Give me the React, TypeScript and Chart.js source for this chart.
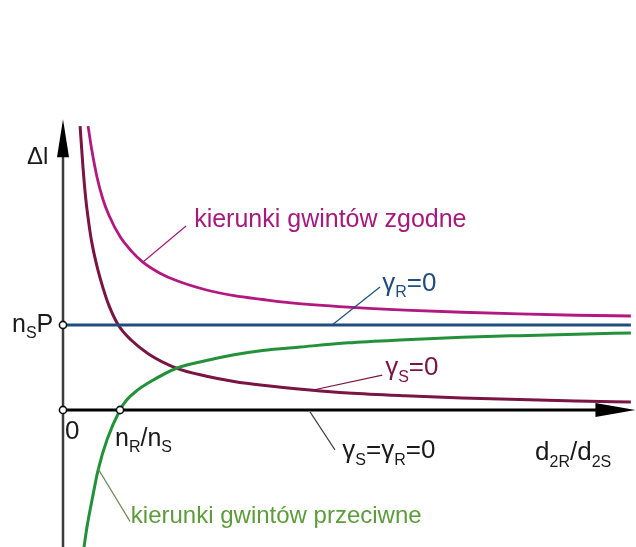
import { useEffect, useRef } from "react";
import { Chart, registerables } from "chart.js";

Chart.register(...registerables);

// Axis ranges (in units of n_R/n_S horizontally and n_S·P vertically)
const X_MIN = -1.105;
const X_MAX = 10.05;
const Y_MIN = -1.612;
const Y_MAX = 4.824;
const X_ARROW_TIP = 10.04;
const Y_ARROW_TIP = 3.42;

// γS = 0 (hyperbola falling towards the d2R/d2S axis)
const gammaSX = [0.3, 0.35, 0.4, 0.45, 0.5, 0.6, 0.7, 0.8, 0.97, 1.2, 1.5, 2.0, 2.5, 3.0, 3.5, 4.33, 5.0, 6.0, 7.0, 8.0, 9.0, 9.96];
const gammaSY = [3.34, 2.86, 2.48, 2.21, 1.99, 1.68, 1.44, 1.24, 1.0, 0.82, 0.66, 0.49, 0.4, 0.335, 0.29, 0.235, 0.2, 0.167, 0.142, 0.123, 0.107, 0.094];

// kierunki gwintów zgodne (approaches n_S·P from above)
const zgodneX = [0.44, 0.5, 0.6, 0.7, 0.8, 1.0, 1.2, 1.4, 1.7, 2.0, 2.5, 3.0, 3.5, 4.0, 5.0, 6.0, 7.0, 8.0, 9.0, 9.96];
const zgodneY = [3.34, 3.08, 2.73, 2.48, 2.3, 2.04, 1.87, 1.74, 1.61, 1.52, 1.415, 1.345, 1.3, 1.26, 1.21, 1.175, 1.15, 1.13, 1.115, 1.106];

// kierunki gwintów przeciwne (approaches n_S·P from below)
const przeciwneX = [0.35, 0.42, 0.509, 0.614, 0.772, 1.0, 1.12, 1.3, 1.5, 2.0, 2.4, 3.0, 3.5, 4.16, 5.0, 5.91, 7.0, 8.0, 9.0, 9.96];
const przeciwneY = [-1.7, -1.38, -1.06, -0.71, -0.35, 0, 0.12, 0.23, 0.32, 0.494, 0.565, 0.65, 0.7, 0.741, 0.79, 0.824, 0.855, 0.875, 0.892, 0.906];

// γR = 0 (constant n_S·P)
const gammaRX = [0, 9.96];
const gammaRY = [1, 1];

// Marked points on the axes
const markerX = [0, 0, 1];
const markerY = [1, 0, 0];

const COLOR_GAMMA_S = "#7a1442";
const COLOR_ZGODNE = "#b2187f";
const COLOR_PRZECIWNE = "#23913a";
const COLOR_GAMMA_R = "#1f4e7e";
const TEXT_ZGODNE = "#a51a7c";
const TEXT_PRZECIWNE = "#5d9c3a";

const LABEL_ZGODNE = "kierunki gwintów zgodne";
const LABEL_PRZECIWNE = "kierunki gwintów przeciwne";

const FONT = '"Liberation Sans", Arial, sans-serif';

type Run = { t: string; sub?: boolean };

function drawRuns(
  ctx: CanvasRenderingContext2D,
  runs: Run[],
  x: number,
  y: number,
  size: number,
  subSize: number,
  color: string
) {
  ctx.save();
  ctx.fillStyle = color;
  ctx.textBaseline = "alphabetic";
  ctx.textAlign = "left";
  let cx = x;
  for (const r of runs) {
    ctx.font = `${r.sub ? subSize : size}px ${FONT}`;
    ctx.fillText(r.t, cx, r.sub ? y + subSize * 0.4 : y);
    cx += ctx.measureText(r.t).width;
  }
  ctx.restore();
}

function toPoints(xs: number[], ys: number[]) {
  return xs.map((x, i) => ({ x, y: ys[i] }));
}

const axesPlugin = {
  id: "arrowAxes",
  beforeDatasetsDraw(chart: any) {
    const { ctx, scales } = chart;
    const sx = scales.x;
    const sy = scales.y;
    const x0 = sx.getPixelForValue(0);
    const y0 = sy.getPixelForValue(0);
    const yTip = sy.getPixelForValue(Y_ARROW_TIP);
    const xTip = sx.getPixelForValue(X_ARROW_TIP);
    const yBottom = sy.getPixelForValue(Y_MIN);

    ctx.save();
    // vertical axis Δl
    ctx.strokeStyle = "#3c3c3c";
    ctx.lineWidth = 2.5;
    ctx.beginPath();
    ctx.moveTo(x0, yTip + 20);
    ctx.lineTo(x0, yBottom);
    ctx.stroke();
    ctx.fillStyle = "#000";
    ctx.beginPath();
    ctx.moveTo(x0, yTip);
    ctx.lineTo(x0 - 6, yTip + 38);
    ctx.lineTo(x0 + 6, yTip + 38);
    ctx.closePath();
    ctx.fill();

    // horizontal axis d2R/d2S
    ctx.strokeStyle = "#000";
    ctx.lineWidth = 3;
    ctx.beginPath();
    ctx.moveTo(x0, y0);
    ctx.lineTo(xTip - 20, y0);
    ctx.stroke();
    ctx.beginPath();
    ctx.moveTo(xTip, y0);
    ctx.lineTo(xTip - 40, y0 - 7);
    ctx.lineTo(xTip - 40, y0 + 7);
    ctx.closePath();
    ctx.fill();
    ctx.restore();
  },
  afterDatasetsDraw(chart: any) {
    const { ctx, scales } = chart;
    const X = (v: number) => scales.x.getPixelForValue(v);
    const Y = (v: number) => scales.y.getPixelForValue(v);

    const leader = (x1: number, y1: number, x2: number, y2: number, color: string) => {
      ctx.save();
      ctx.strokeStyle = color;
      ctx.lineWidth = 1.2;
      ctx.beginPath();
      ctx.moveTo(X(x1), Y(y1));
      ctx.lineTo(X(x2), Y(y2));
      ctx.stroke();
      ctx.restore();
    };

    // leaders from the curves to their descriptions
    leader(1.404, 1.741, 2.158, 2.165, TEXT_ZGODNE);
    leader(4.72, 1.0, 5.56, 1.447, COLOR_GAMMA_R);
    leader(4.39, 0.235, 5.6, 0.41, COLOR_GAMMA_S);
    leader(4.33, -0.02, 4.77, -0.47, "#444");
    leader(0.614, -0.69, 1.175, -1.31, "#6f8a58");

    // open circles on the axes
    ctx.save();
    ctx.lineWidth = 1.6;
    ctx.strokeStyle = "#111";
    ctx.fillStyle = "#fff";
    for (let i = 0; i < markerX.length; i++) {
      ctx.beginPath();
      ctx.arc(X(markerX[i]), Y(markerY[i]), 3.6, 0, Math.PI * 2);
      ctx.fill();
      ctx.stroke();
    }
    ctx.restore();

    // axis and curve labels
    const ink = "#1a1a1a";
    drawRuns(ctx, [{ t: "Δl" }], X(-0.63), Y(2.9), 24, 16, ink);
    drawRuns(ctx, [{ t: "n" }, { t: "S", sub: true }, { t: "P" }], X(-0.895), Y(0.918), 25, 16, ink);
    drawRuns(ctx, [{ t: "0" }], X(0.035), Y(-0.34), 26, 16, ink);
    drawRuns(
      ctx,
      [{ t: "n" }, { t: "R", sub: true }, { t: "/" }, { t: "n" }, { t: "S", sub: true }],
      X(0.912),
      Y(-0.424),
      25,
      16,
      ink
    );
    drawRuns(
      ctx,
      [{ t: "d" }, { t: "2R", sub: true }, { t: "/" }, { t: "d" }, { t: "2S", sub: true }],
      X(8.28),
      Y(-0.59),
      26,
      16,
      ink
    );
    drawRuns(
      ctx,
      [{ t: "γ" }, { t: "S", sub: true }, { t: "=" }, { t: "γ" }, { t: "R", sub: true }, { t: "=0" }],
      X(4.9),
      Y(-0.57),
      26,
      16,
      ink
    );
    drawRuns(ctx, [{ t: "γ" }, { t: "S", sub: true }, { t: "=0" }], X(5.65), Y(0.41), 26, 16, COLOR_GAMMA_S);
    drawRuns(ctx, [{ t: "γ" }, { t: "R", sub: true }, { t: "=0" }], X(5.6), Y(1.4), 26, 16, COLOR_GAMMA_R);
    drawRuns(ctx, [{ t: LABEL_ZGODNE }], X(2.3), Y(2.153), 25, 16, TEXT_ZGODNE);
    drawRuns(ctx, [{ t: LABEL_PRZECIWNE }], X(1.19), Y(-1.329), 24, 16, TEXT_PRZECIWNE);
  },
};

export default function App() {
  const canvasRef = useRef<HTMLCanvasElement | null>(null);

  useEffect(() => {
    document.body.style.margin = "0";
    const canvas = canvasRef.current;
    if (!canvas) return;

    const line = (data: { x: number; y: number }[], color: string, width: number) => ({
      data,
      borderColor: color,
      backgroundColor: color,
      borderWidth: width,
      pointRadius: 0,
      fill: false,
      cubicInterpolationMode: "monotone" as const,
    });

    const chart = new Chart(canvas, {
      type: "line",
      data: {
        datasets: [
          line(toPoints(gammaRX, gammaRY), COLOR_GAMMA_R, 3),
          line(toPoints(przeciwneX, przeciwneY), COLOR_PRZECIWNE, 3),
          line(toPoints(gammaSX, gammaSY), COLOR_GAMMA_S, 3),
          line(toPoints(zgodneX, zgodneY), COLOR_ZGODNE, 2.8),
        ],
      },
      options: {
        responsive: false,
        animation: false,
        parsing: false,
        layout: { padding: 0 },
        plugins: {
          legend: { display: false },
          tooltip: { enabled: false },
        },
        scales: {
          x: { type: "linear", min: X_MIN, max: X_MAX, display: false },
          y: { type: "linear", min: Y_MIN, max: Y_MAX, display: false },
        },
      },
      plugins: [axesPlugin],
    });

    return () => chart.destroy();
  }, []);

  return (
    <div style={{ width: 636, height: 547, background: "#fff" }}>
      <canvas ref={canvasRef} width={636} height={547} style={{ display: "block" }} />
    </div>
  );
}
